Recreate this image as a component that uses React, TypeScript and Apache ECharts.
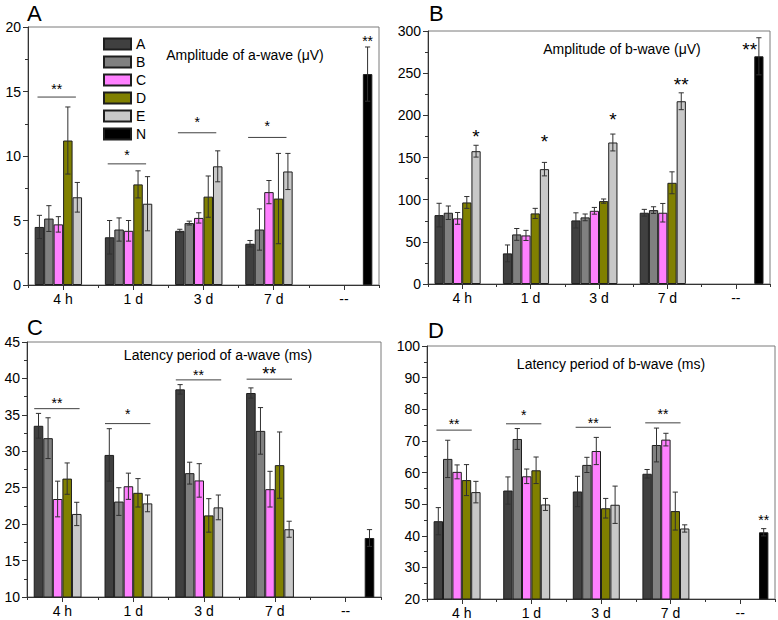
import React, { useEffect, useRef } from 'react';
import * as echarts from 'echarts';

const categories = ['4 h', '1 d', '3 d', '7 d', '--'];
const groups = ['A', 'B', 'C', 'D', 'E', 'N'];
const groupColors = ['#404040', '#808080', '#ff80ff', '#808000', '#c8c8c8', '#000000'];

// Panel A: Amplitude of a-wave (µV)  rows: groups A..E, columns: 4 h, 1 d, 3 d, 7 d
const ampAMeans = [
  [4.5, 3.7, 4.2, 3.2],
  [5.15, 4.3, 4.8, 4.3],
  [4.7, 4.2, 5.2, 7.2],
  [11.2, 7.8, 6.85, 6.7],
  [6.8, 6.3, 9.2, 8.8],
];
const ampAErrs = [
  [0.9, 1.3, 0.12, 0.25],
  [1.0, 0.9, 0.15, 1.6],
  [0.6, 0.8, 0.4, 0.9],
  [2.6, 1.05, 1.6, 3.5],
  [1.15, 2.1, 1.2, 1.4],
];
const ampANormal = [16.35, 2.1];
const ampASigLine = [14.57, 9.39, 11.8, 11.44];
const ampASigStar = [15.45, 10.35, 12.86, 12.55];
const ampASigText = ['**', '*', '*', '*'];
const ampAMarkCat = [4];
const ampAMarkGroup = [5];
const ampAMarkY = [19.17];
const ampAMarkText = ['**'];

// Panel B: Amplitude of b-wave (µV)
const ampBMeans = [
  [81.7, 36.3, 75.4, 84.5],
  [84.5, 58.8, 79, 87.6],
  [77.8, 57.6, 86.8, 84.5],
  [96.7, 83.7, 98.3, 120],
  [157.5, 136.2, 167.8, 216.7],
];
const ampBErrs = [
  [14, 10, 9, 4],
  [8, 7, 4, 4],
  [7, 6, 4, 11],
  [7, 6, 2.5, 13],
  [7, 8, 10, 10],
];
const ampBNormal = [270, 22];
const ampBSigLine: number[] = [];
const ampBSigStar: number[] = [];
const ampBSigText: string[] = [];
const ampBMarkCat = [0, 1, 2, 3, 4];
const ampBMarkGroup = [4, 4, 4, 4, 4];
const ampBMarkY = [180, 174.5, 200, 241.6, 283];
const ampBMarkText = ['*', '*', '*', '**', '**'];

// Panel C: Latency period of a-wave (ms)
const latAMeans = [
  [33.5, 29.5, 38.5, 38.0],
  [31.8, 23.1, 27.0, 32.8],
  [23.45, 25.2, 26.0, 24.8],
  [26.25, 24.3, 21.2, 28.1],
  [21.4, 22.85, 22.3, 19.3],
];
const latAErrs = [
  [1.7, 3.6, 0.65, 0.7],
  [2.8, 1.9, 1.5, 3.2],
  [2.45, 1.8, 2.3, 2.45],
  [2.15, 1.95, 2.3, 4.55],
  [1.6, 1.15, 1.7, 1.1],
];
const latANormal = [18.1, 1.15];
const latASigLine = [35.85, 33.8, 39.8, 39.9];
const latASigStar = [37.0, 35.6, 40.9, 41.1];
const latASigText = ['**', '*', '**', '**'];
const latAMarkCat: number[] = [];
const latAMarkGroup: number[] = [];
const latAMarkY: number[] = [];
const latAMarkText: string[] = [];

// Panel D: Latency period of b-wave (ms)
const latBMeans = [
  [44.6, 54.3, 54.0, 59.6],
  [64.3, 70.6, 62.4, 68.7],
  [60.2, 58.8, 66.8, 70.4],
  [57.6, 60.7, 48.7, 47.8],
  [53.8, 49.9, 49.8, 42.3],
];
const latBErrs = [
  [4.3, 4.3, 4.8, 1.35],
  [5.9, 3.3, 2.4, 5.35],
  [2.2, 2.3, 4.3, 2.0],
  [4.9, 4.2, 3.1, 6.0],
  [3.4, 1.9, 5.9, 1.15],
];
const latBNormal = [41.1, 1.15];
const latBSigLine = [73.4, 75.4, 74.3, 75.7];
const latBSigStar = [76.2, 79.3, 76.7, 79.6];
const latBSigText = ['**', '*', '**', '**'];
const latBMarkCat = [4];
const latBMarkGroup = [5];
const latBMarkY = [45.9];
const latBMarkText = ['**'];

const FONT = '"Liberation Sans", Arial, Helvetica, sans-serif';
const GAP = 0.19;
const NSER = 6;

const panels = [
  {
    letter: 'A', title: 'Amplitude of a-wave (μV)', titlePos: [245, 55], letterPos: [27, 13],
    grid: { left: 28, top: 27, width: 351, height: 258 }, min: 0, max: 20, interval: 5,
    means: ampAMeans, errs: ampAErrs, normal: ampANormal,
    sigLine: ampASigLine, sigStar: ampASigStar, sigText: ampASigText, sigSize: [14, 14, 14, 14],
    markCat: ampAMarkCat, markGroup: ampAMarkGroup, markY: ampAMarkY, markText: ampAMarkText, markSize: [14],
    span: [-0.2, 3.85],
  },
  {
    letter: 'B', title: 'Amplitude of b-wave (μV)', titlePos: [622, 49], letterPos: [429, 13],
    grid: { left: 428, top: 31, width: 342, height: 253 }, min: 0, max: 300, interval: 50,
    means: ampBMeans, errs: ampBErrs, normal: ampBNormal,
    sigLine: ampBSigLine, sigStar: ampBSigStar, sigText: ampBSigText, sigSize: [],
    markCat: ampBMarkCat, markGroup: ampBMarkGroup, markY: ampBMarkY, markText: ampBMarkText, markSize: [19, 19, 19, 19, 19],
    span: [-0.2, 3.85],
  },
  {
    letter: 'C', title: 'Latency period of a-wave (ms)', titlePos: [218, 355], letterPos: [27, 327],
    grid: { left: 27, top: 342, width: 354, height: 255 }, min: 10, max: 45, interval: 5,
    means: latAMeans, errs: latAErrs, normal: latANormal,
    sigLine: latASigLine, sigStar: latASigStar, sigText: latASigText, sigSize: [14, 14, 14, 18],
    markCat: latAMarkCat, markGroup: latAMarkGroup, markY: latAMarkY, markText: latAMarkText, markSize: [],
    span: [-0.45, 4.3],
  },
  {
    letter: 'D', title: 'Latency period of b-wave (ms)', titlePos: [611, 364], letterPos: [428, 330],
    grid: { left: 427, top: 346, width: 348, height: 254 }, min: 20, max: 100, interval: 10,
    means: latBMeans, errs: latBErrs, normal: latBNormal,
    sigLine: latBSigLine, sigStar: latBSigStar, sigText: latBSigText, sigSize: [14, 14, 14, 14],
    markCat: latBMarkCat, markGroup: latBMarkGroup, markY: latBMarkY, markText: latBMarkText, markSize: [14],
    span: [-0.2, 3.56],
  },
];

function slotX(api: any, cat: number, slot: number) {
  const c = api.coord([cat, 0])[0];
  const band = api.size([1, 0])[0];
  const w = (band * (1 - GAP)) / NSER;
  return c + (slot - 2.5) * w;
}

function buildOption() {
  const grid: any[] = [];
  const xAxis: any[] = [];
  const yAxis: any[] = [];
  const series: any[] = [];
  const graphic: any[] = [];

  panels.forEach((p, pi) => {
    grid.push({ ...p.grid, show: true, borderColor: '#7a7a7a', borderWidth: 1, backgroundColor: 'transparent' });
    xAxis.push({
      type: 'category', gridIndex: pi, data: categories, position: 'bottom',
      axisLine: { show: true, lineStyle: { color: '#333', width: 1 } },
      axisTick: { show: true, alignWithLabel: true, length: 5, lineStyle: { color: '#333' } },
      axisLabel: { fontSize: 14, color: '#000', margin: 7, fontFamily: FONT },
      splitLine: { show: false },
    });
    xAxis.push({
      type: 'category', gridIndex: pi, data: categories, position: 'bottom',
      axisLine: { show: false },
      axisTick: { show: true, alignWithLabel: false, length: 3, lineStyle: { color: '#333' } },
      axisLabel: { show: false },
      splitLine: { show: false },
    });
    yAxis.push({
      type: 'value', gridIndex: pi, min: p.min, max: p.max, interval: p.interval,
      axisLine: { show: true, lineStyle: { color: '#333', width: 1 } },
      axisTick: { show: true, length: 5, lineStyle: { color: '#333' } },
      minorTick: { show: true, splitNumber: 2, length: 3, lineStyle: { color: '#333' } },
      splitLine: { show: false },
      minorSplitLine: { show: false },
      axisLabel: { fontSize: 14, color: '#000', margin: 7, fontFamily: FONT },
    });

    const xi = pi * 2;
    groups.forEach((g, gi) => {
      const data = gi < 5 ? [...p.means[gi], '-'] : ['-', '-', '-', '-', p.normal[0]];
      series.push({
        type: 'bar', name: g, xAxisIndex: xi, yAxisIndex: pi, data,
        barGap: '0%', barCategoryGap: GAP * 100 + '%',
        itemStyle: { color: groupColors[gi], borderColor: '#1e1e1e', borderWidth: 1 },
        silent: true,
      });
    });

    // error bars
    const errData: number[][] = [];
    for (let gi = 0; gi < 5; gi++) {
      p.means[gi].forEach((m, ci) => {
        const e = p.errs[gi][ci];
        errData.push([ci, m - e, m + e, gi]);
      });
    }
    errData.push([4, p.normal[0] - p.normal[1], p.normal[0] + p.normal[1], 5]);
    series.push({
      type: 'custom', xAxisIndex: xi, yAxisIndex: pi, z: 5, silent: true,
      encode: { x: 0, y: [1, 2] },
      data: errData,
      renderItem: (params: any, api: any) => {
        const cat = api.value(0);
        const lo = api.value(1);
        const hi = api.value(2);
        const slot = api.value(3);
        const x = slotX(api, cat, slot);
        const yLo = api.coord([cat, lo])[1];
        const yHi = api.coord([cat, hi])[1];
        const cap = 2.6;
        const st = { stroke: '#303030', lineWidth: 1 };
        return {
          type: 'group',
          children: [
            { type: 'line', shape: { x1: x, y1: yLo, x2: x, y2: yHi }, style: st },
            { type: 'line', shape: { x1: x - cap, y1: yHi, x2: x + cap, y2: yHi }, style: st },
            { type: 'line', shape: { x1: x - cap, y1: yLo, x2: x + cap, y2: yLo }, style: st },
          ],
        };
      },
    });

    // significance lines with stars
    if (p.sigLine.length) {
      series.push({
        type: 'custom', xAxisIndex: xi, yAxisIndex: pi, z: 6, silent: true,
        encode: { x: 0, y: [1, 2] },
        data: p.sigLine.map((v, ci) => [ci, v, p.sigStar[ci]]),
        renderItem: (params: any, api: any) => {
          const i = params.dataIndex;
          const cat = api.value(0);
          const yl = api.coord([cat, api.value(1)])[1];
          const ys = api.coord([cat, api.value(2)])[1];
          const x0 = slotX(api, cat, p.span[0]);
          const x1 = slotX(api, cat, p.span[1]);
          const fs = p.sigSize[i];
          return {
            type: 'group',
            children: [
              { type: 'line', shape: { x1: x0, y1: yl, x2: x1, y2: yl }, style: { stroke: '#404040', lineWidth: 1 } },
              {
                type: 'text', x: (x0 + x1) / 2, y: ys + 0.22 * fs,
                style: { text: p.sigText[i], fontSize: fs, fontFamily: FONT, fill: '#000', align: 'center', verticalAlign: 'middle' },
              },
            ],
          };
        },
      });
    }

    // stars without lines
    if (p.markCat.length) {
      series.push({
        type: 'custom', xAxisIndex: xi, yAxisIndex: pi, z: 6, silent: true,
        encode: { x: 0, y: 1 },
        data: p.markCat.map((c, k) => [c, p.markY[k], p.markGroup[k]]),
        renderItem: (params: any, api: any) => {
          const i = params.dataIndex;
          const cat = api.value(0);
          const y = api.coord([cat, api.value(1)])[1];
          const x = slotX(api, cat, api.value(2));
          const fs = p.markSize[i];
          return {
            type: 'text', x, y: y + 0.22 * fs,
            style: { text: p.markText[i], fontSize: fs, fontFamily: FONT, fill: '#000', align: 'center', verticalAlign: 'middle' },
          };
        },
      });
    }

    graphic.push({
      type: 'text', x: p.titlePos[0], y: p.titlePos[1], silent: true,
      style: { text: p.title, fontSize: 14, fontFamily: FONT, fill: '#000', align: 'center', verticalAlign: 'middle' },
    });
    graphic.push({
      type: 'text', x: p.letterPos[0], y: p.letterPos[1], silent: true,
      style: { text: p.letter, fontSize: 22, fontFamily: FONT, fill: '#000', align: 'left', verticalAlign: 'middle' },
    });
  });

  return {
    animation: false,
    backgroundColor: '#ffffff',
    textStyle: { fontFamily: FONT },
    grid,
    xAxis,
    yAxis,
    series,
    graphic,
    legend: {
      data: groups,
      orient: 'vertical',
      left: 103,
      top: 37,
      padding: 0,
      itemWidth: 27,
      itemHeight: 11,
      itemGap: 4,
      icon: 'rect',
      selectedMode: false,
      textStyle: { fontSize: 14, color: '#000', fontFamily: FONT, lineHeight: 11 },
    },
  };
}

export default function App() {
  const ref = useRef<HTMLDivElement>(null);
  useEffect(() => {
    if (!ref.current) return;
    const chart = echarts.init(ref.current, undefined, { renderer: 'svg' });
    chart.setOption(buildOption() as any);
    return () => chart.dispose();
  }, []);
  return <div ref={ref} style={{ position: 'absolute', left: 0, top: 0, width: 778, height: 620 }} />;
}
